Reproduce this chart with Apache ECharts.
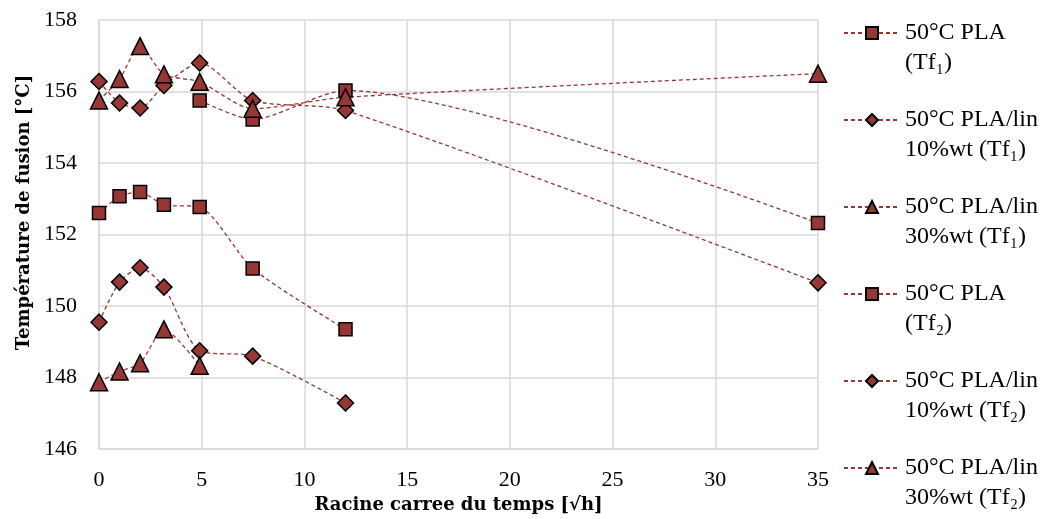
<!DOCTYPE html>
<html>
<head>
<meta charset="utf-8">
<script src="https://cdn.jsdelivr.net/npm/echarts@6/dist/echarts.min.js"></script>
<style>
html,body{margin:0;padding:0;background:#fff;}
#chart{width:1054px;height:519px;}
</style>
</head>
<body>
<div id="chart"></div>
<script>
// Data
const seriesNames = [
  '50°C PLA\n(Tf₁)',
  '50°C PLA/lin\n10%wt (Tf₁)',
  '50°C PLA/lin\n30%wt (Tf₁)',
  '50°C PLA\n(Tf₂)',
  '50°C PLA/lin\n10%wt (Tf₂)',
  '50°C PLA/lin\n30%wt (Tf₂)'
];
const xTf1PLA   = [4.9, 7.48, 12, 35];
const yTf1PLA   = [155.75, 155.22, 156.03, 152.32];
const xTf1Lin10 = [0, 1, 2, 3.16, 4.9, 7.48, 12, 35];
const yTf1Lin10 = [156.28, 155.68, 155.54, 156.17, 156.8, 155.75, 155.47, 150.65];
const xTf1Lin30 = [0, 1, 2, 3.16, 4.9, 7.48, 12, 35];
const yTf1Lin30 = [155.75, 156.35, 157.27, 156.48, 156.27, 155.52, 155.84, 156.5];
const xTf2PLA   = [0, 1, 2, 3.16, 4.9, 7.48, 12];
const yTf2PLA   = [152.6, 153.07, 153.19, 152.83, 152.77, 151.05, 149.35];
const xTf2Lin10 = [0, 1, 2, 3.16, 4.9, 7.48, 12];
const yTf2Lin10 = [149.55, 150.67, 151.07, 150.53, 148.75, 148.6, 147.29];
const xTf2Lin30 = [0, 1, 2, 3.16, 4.9];
const yTf2Lin30 = [147.87, 148.17, 148.4, 149.35, 148.33];
const symbols = ['rect', 'diamond', 'triangle', 'rect', 'diamond', 'triangle'];
const symbolSizes = [13, 16, 17, 13, 16, 17];

const xsAll = [xTf1PLA, xTf1Lin10, xTf1Lin30, xTf2PLA, xTf2Lin10, xTf2Lin30];
const ysAll = [yTf1PLA, yTf1Lin10, yTf1Lin30, yTf2PLA, yTf2Lin10, yTf2Lin30];

const RED = '#953735';
const FONT = '"Liberation Serif", "DejaVu Serif", serif';
const BFONT = '"DejaVu Serif", "Liberation Serif", serif';

const series = seriesNames.map((name, i) => ({
  name: name,
  type: 'line',
  smooth: 0.25,
  symbol: symbols[i],
  symbolSize: symbolSizes[i],
  data: xsAll[i].map((x, j) => [x, ysAll[i][j]]),
  lineStyle: { color: RED, width: 1.3, type: [4, 3] },
  itemStyle: { color: RED, borderColor: '#000', borderWidth: 1.5 },
  z: 3
}));

const chart = echarts.init(document.getElementById('chart'), null, { renderer: 'canvas' });
chart.setOption({
  animation: false,
  backgroundColor: '#fff',
  grid: { left: 99, right: 236, top: 20, bottom: 69, containLabel: false },
  xAxis: {
    type: 'value',
    min: 0, max: 35, interval: 5,
    name: 'Racine carree du temps [√h]',
    nameLocation: 'middle',
    nameGap: 34,
    nameTextStyle: { fontFamily: BFONT, fontSize: 18, fontWeight: 'bold', color: '#000' },
    axisLine: { show: true, lineStyle: { color: '#d9d9d9', width: 1.5 } },
    axisTick: { show: false },
    axisLabel: { fontFamily: FONT, fontSize: 22, color: '#000', margin: 20 },
    splitLine: { show: true, lineStyle: { color: '#d9d9d9', width: 1.5 } }
  },
  yAxis: {
    type: 'value',
    min: 146, max: 158, interval: 2,
    name: 'Température de fusion [°C]',
    nameLocation: 'middle',
    nameGap: 66,
    nameTextStyle: { fontFamily: BFONT, fontSize: 18, fontWeight: 'bold', color: '#000', padding: [0, 0, 0, 44] },
    axisLine: { show: true, lineStyle: { color: '#d9d9d9', width: 1.5 } },
    axisTick: { show: false },
    axisLabel: { fontFamily: FONT, fontSize: 22, color: '#000', margin: 22 },
    splitLine: { show: true, lineStyle: { color: '#d9d9d9', width: 1.5 } }
  },
  legend: {
    orient: 'vertical',
    left: 843,
    top: -12,
    height: 600,
    padding: 0,
    itemWidth: 56,
    itemHeight: 15,
    itemGap: -3,
    formatter: function (name) { return ' \n' + name; },
    textStyle: { fontFamily: FONT, fontSize: 24, color: '#000', lineHeight: 30 },
    data: seriesNames
  },
  series: series
});
</script>
</body>
</html>
